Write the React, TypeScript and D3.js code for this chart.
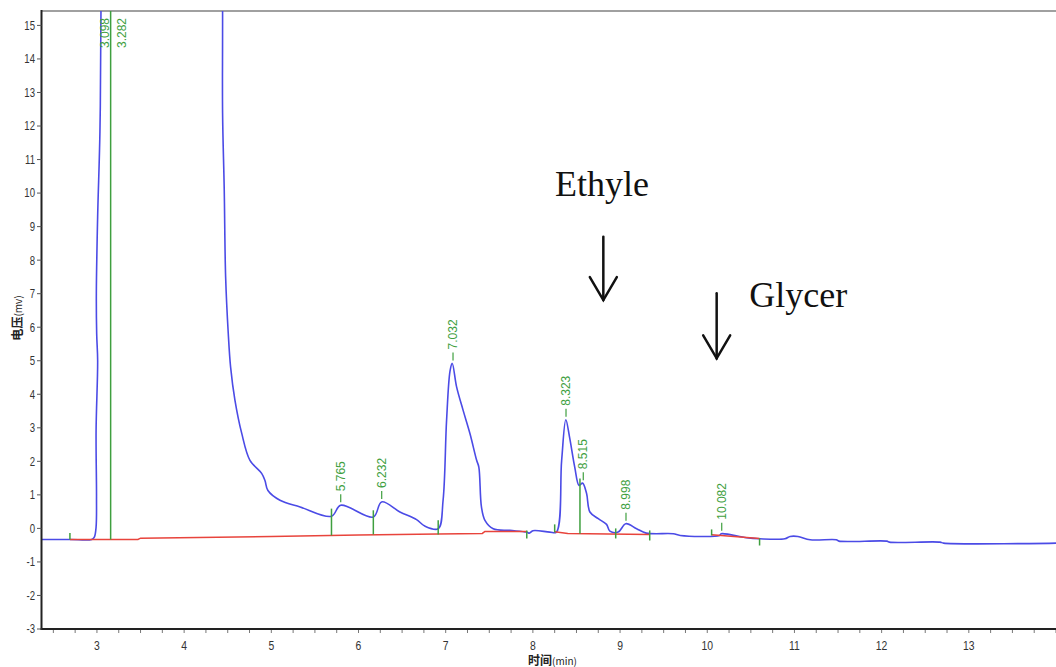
import React from "react";
import * as d3 from "d3";

// ---- data ----
const traceTime = [2.364, 2.69, 2.94, 2.97, 2.99, 2.995, 2.99, 3.008, 2.997, 2.993, 3.008, 3.034, 3.046, 3.07, 4.42, 4.441, 4.441, 4.46, 4.476, 4.506, 4.533, 4.583, 4.66, 4.755, 4.889, 4.927, 4.961, 5.099, 5.33, 5.69, 5.795, 6.17, 6.265, 6.475, 6.666, 6.76, 6.914, 6.97, 7.01, 7.05, 7.075, 7.125, 7.2, 7.278, 7.355, 7.38, 7.41, 7.45, 7.545, 7.736, 7.928, 7.96, 8.0, 8.195, 8.27, 8.33, 8.378, 8.42, 8.48, 8.53, 8.57, 8.616, 8.654, 8.75, 8.845, 8.883, 8.978, 9.066, 9.19, 9.3, 9.61, 9.69, 10.14, 10.16, 10.45, 10.6, 10.89, 10.95, 11.04, 11.18, 11.48, 11.51, 12.06, 12.09, 12.67, 12.71, 14.0];
const traceMv = [-0.33, -0.33, -0.33, -0.26, 0.04, 0.93, 2.9, 5.0, 5.8, 7.0, 9.3, 11.8, 15.4, 40, 40, 15.4, 12.39, 10.09, 7.49, 5.82, 4.81, 3.82, 2.84, 2.03, 1.64, 1.43, 1.13, 0.84, 0.64, 0.36, 0.69, 0.34, 0.79, 0.49, 0.26, 0.07, -0.01, 0.84, 3.22, 4.7, 4.92, 4.22, 3.52, 2.83, 2.03, 1.83, 0.64, 0.24, -0.01, -0.06, -0.11, -0.14, -0.07, -0.11, -0.11, 2.03, 3.24, 2.73, 1.83, 1.28, 1.35, 1.04, 0.49, 0.29, 0.12, -0.08, -0.11, 0.14, -0.01, -0.14, -0.16, -0.21, -0.21, -0.16, -0.28, -0.31, -0.31, -0.24, -0.24, -0.34, -0.34, -0.38, -0.38, -0.41, -0.41, -0.44, -0.44];

// integration baseline (red), segments
const baseSegA_t = [2.69, 3.47, 3.5, 5.0, 6.0, 6.91, 7.42, 7.45, 7.93];
const baseSegA_v = [-0.33, -0.33, -0.29, -0.24, -0.2, -0.17, -0.15, -0.09, -0.09];
const baseSegB_t = [8.25, 8.4, 9.34];
const baseSegB_v = [-0.1, -0.15, -0.18];
const baseSegC_t = [10.05, 10.6];
const baseSegC_v = [-0.19, -0.3];

// peak labels
const peakLabels = ["3.098", "3.282", "5.765", "6.232", "7.032", "8.323", "8.515", "8.998", "10.082"];
const peakTimes = [3.092, 3.283, 5.796, 6.266, 7.084, 8.38, 8.578, 9.068, 10.166];
const peakApex: (number | null)[] = [null, null, 0.69, 0.79, 4.92, 3.24, 1.35, 0.14, -0.16];

// integration marks (green)
const markTimes = [2.69, 3.157, 5.69, 6.17, 6.914, 7.93, 8.25, 8.54, 8.95, 9.34, 10.05, 10.6];
const markTop = [-0.14, 15.43, 0.59, 0.54, 0.24, -0.06, 0.12, 1.49, 0.0, -0.06, -0.03, -0.3];
const markBottom = [-0.33, -0.33, -0.21, -0.18, -0.18, -0.3, -0.12, -0.16, -0.3, -0.36, -0.21, -0.51];

// y ticks and x ticks
const yTicks = d3.range(-3, 16, 1);
const xTicks = d3.range(3, 14, 1);
const xMinor = d3.range(2.5, 14.01, 0.25);

// annotations
const annoText = ["Ethyle", "Glycer"];
const annoT = [8.254, 10.482];
const annoV = [9.913, 6.603];
const arrowT = [8.808, 10.108];
const arrowFrom = [8.7, 7.01];
const arrowTo = [6.81, 5.07];

const W = 1056;
const H = 667;

export default function App() {
  const x = d3.scaleLinear().domain([2.364, 14.0]).range([41.5, 1056]);
  const y = d3.scaleLinear().domain([-3, 15.43]).range([629, 11]);

  const line = d3
    .line<[number, number]>()
    .x((d) => x(d[0]))
    .y((d) => y(d[1]));
  const smooth = d3
    .line<[number, number]>()
    .x((d) => x(d[0]))
    .y((d) => y(d[1]))
    .curve(d3.curveCatmullRom.alpha(0.5));

  const trace = smooth(traceTime.map((t, i) => [t, traceMv[i]] as [number, number])) || "";
  const segs = [
    [baseSegA_t, baseSegA_v],
    [baseSegB_t, baseSegB_v],
    [baseSegC_t, baseSegC_v],
  ].map(([ts, vs]) => line(ts.map((t, i) => [t, vs[i]] as [number, number])) || "");

  const blue = "#4b4be6";
  const red = "#e8443c";
  const green = "#3f9f3f";

  return (
    <svg
      width={W}
      height={H}
      style={{ position: "absolute", left: 0, top: 0, background: "#fff" }}
      fontFamily="'Liberation Sans', Arial, sans-serif"
    >
      <defs>
        <clipPath id="plot">
          <rect x={41.5} y={11} width={W - 41.5} height={629 - 11} />
        </clipPath>
      </defs>

      {/* top border */}
      <line x1={41.5} x2={W} y1={11} y2={11} stroke="#808080" strokeWidth={1.5} />

      <g clipPath="url(#plot)">
        <path d={trace} fill="none" stroke={blue} strokeWidth={1.6} strokeLinejoin="round" />
        {segs.map((d, i) => (
          <path key={i} d={d} fill="none" stroke={red} strokeWidth={1.5} />
        ))}
        {markTimes.map((t, i) => (
          <line
            key={i}
            x1={x(t)}
            x2={x(t)}
            y1={y(markBottom[i])}
            y2={y(markTop[i])}
            stroke={green}
            strokeWidth={1.5}
          />
        ))}
        {peakLabels.map((lab, i) => {
          const px = x(peakTimes[i]);
          const apex = peakApex[i];
          const start = apex === null ? 48 : y(apex) - 14;
          return (
            <g key={lab}>
              {apex !== null && (
                <line x1={px} x2={px} y1={y(apex) - 3} y2={y(apex) - 11} stroke={green} strokeWidth={1.2} />
              )}
              <text
                transform={`translate(${px},${start}) rotate(-90)`}
                fontSize={12}
                fill={green}
                dominantBaseline="central"
                textAnchor="start"
              >
                {lab}
              </text>
            </g>
          );
        })}
      </g>

      {/* axes */}
      <line x1={41.5} x2={41.5} y1={10} y2={630} stroke="#222" strokeWidth={2} />
      <line x1={40.5} x2={W} y1={629} y2={629} stroke="#222" strokeWidth={2} />
      {yTicks.map((v) => (
        <g key={v}>
          <line x1={37} x2={41.5} y1={y(v)} y2={y(v)} stroke="#555" strokeWidth={1} />
          <text
            transform={`translate(35,${y(v)}) scale(0.8,1)`}
            fontSize={12}
            fill="#333"
            textAnchor="end"
            dominantBaseline="central"
          >
            {v}
          </text>
        </g>
      ))}
      {xMinor.map((t) => (
        <line key={t} x1={x(t)} x2={x(t)} y1={630} y2={633} stroke="#777" strokeWidth={1} />
      ))}
      {xTicks.map((t) => (
        <text
          key={t}
          transform={`translate(${x(t)},650) scale(0.8,1)`}
          fontSize={13}
          fill="#333"
          textAnchor="middle"
        >
          {t}
        </text>
      ))}

      {/* axis titles */}
      <text
        transform="translate(528,665)"
        fontSize={12}
        fill="#222"
        fontFamily="'Noto Sans CJK SC', sans-serif"
        fontWeight="bold"
      >
        时间<tspan fontSize={10} fontWeight="normal">(min)</tspan>
      </text>
      <text
        transform="translate(22,318) rotate(-90)"
        fontSize={12}
        fill="#222"
        textAnchor="middle"
        fontFamily="'Noto Sans CJK SC', sans-serif"
        fontWeight="bold"
      >
        电压<tspan fontSize={10} fontWeight="normal">(mv)</tspan>
      </text>

      {/* annotations */}
      {annoText.map((txt, i) => (
        <text
          key={txt}
          x={x(annoT[i])}
          y={y(annoV[i])}
          fontSize={36}
          fill="#111"
          fontFamily="'Liberation Serif', 'Times New Roman', serif"
        >
          {txt}
        </text>
      ))}
      {arrowT.map((t, i) => {
        const ax = x(t);
        const y0 = y(arrowFrom[i]);
        const y1 = y(arrowTo[i]);
        return (
          <g key={i} stroke="#111" strokeWidth={2.5} fill="none" strokeLinecap="round">
            <line x1={ax} x2={ax} y1={y0} y2={y1} />
            <polyline points={`${ax - 13.5},${y1 - 23} ${ax},${y1} ${ax + 13.5},${y1 - 23}`} />
          </g>
        );
      })}
    </svg>
  );
}
